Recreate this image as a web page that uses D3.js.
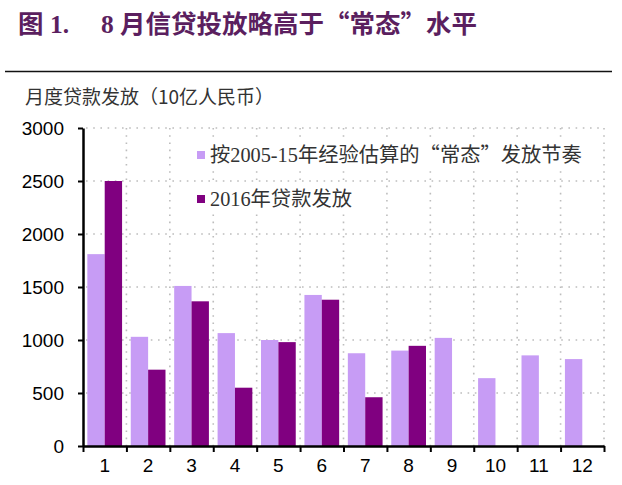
<!DOCTYPE html>
<html><head><meta charset="utf-8">
<script src="https://cdn.jsdelivr.net/npm/d3@7"></script>
<style>html,body{margin:0;padding:0;background:#fff;}svg{display:block;}</style>
</head><body>
<svg id="c" width="622" height="485"></svg>
<script>
const months = ["1","2","3","4","5","6","7","8","9","10","11","12"];
const normalValues = [1810, 1030, 1510, 1065, 1000, 1425, 875, 900, 1020, 640, 855, 820];
const loans2016 = [2500, 720, 1365, 550, 980, 1380, 460, 945, null, null, null, null];
const yTicks = [0, 500, 1000, 1500, 2000, 2500, 3000];
const seriesNames = ["按2005-15年经验估算的“常态”发放节奏", "2016年贷款发放"];
const titleText = "图 1.     8 月信贷投放略高于“常态”水平";
const unitText = "月度贷款发放（10亿人民币）";

const colLight = "#c79cf5", colDark = "#800080";
const svg = d3.select("#c");
const L = 83, R = 604, T = 128, B = 446;

// helper: split text into latin / cjk runs
function runs(str){ const out=[]; let cur="", asc=null;
  for (const ch of str){ const a = ch.charCodeAt(0) < 256;
    if (asc===null || a===asc) { cur+=ch; asc=a; } else { out.push([cur,asc]); cur=ch; asc=a; } }
  if (cur) out.push([cur,asc]); return out; }
function mixedText(g, str, asciiFont, cjkFont, cjkWeight){
  runs(str.replace(/ /g,"\u00a0")).forEach(([s,a]) => {
    const ts = g.append("tspan").attr("font-family", a?asciiFont:cjkFont).text(s);
    if (!a && cjkWeight) ts.attr("font-weight", cjkWeight);
  });
}

// title
const t = svg.append("text").attr("x",18).attr("y",33).attr("font-size",25.5).attr("font-weight","bold")
  .attr("fill","#5b1f5f");
mixedText(t, titleText, "'Liberation Serif'", "'Noto Sans CJK SC'", 600);
svg.append("line").attr("x1",5).attr("x2",612).attr("y1",71.5).attr("y2",71.5).attr("stroke","#111").attr("stroke-width",1.3);
svg.append("text").attr("x",25).attr("y",104).attr("font-size",19).attr("fill","#333")
  .attr("font-family","'Noto Sans CJK SC'").text(unitText);

const y = d3.scaleLinear().domain([0,3000]).range([B,T]);
const x0 = d3.scaleBand().domain(months).range([L,R]).paddingInner(0.2).paddingOuter(0.1);
const x1 = d3.scaleBand().domain([0,1]).range([0,x0.bandwidth()]);
const xb = d3.scaleLinear().domain([0,12]).range([L,R]);

// grid
const grid = svg.append("g").attr("stroke","#bdbdbd").attr("stroke-width",1.6).attr("stroke-dasharray","1.6,5.6");
yTicks.filter(v=>v>0).forEach(v => grid.append("line").attr("x1",L+3).attr("x2",R).attr("y1",y(v)).attr("y2",y(v)));
d3.range(1,13).forEach(i => grid.append("line").attr("x1",xb(i)).attr("x2",xb(i)).attr("y1",T).attr("y2",B));

// legend
const lg = svg.append("g");
const legY = [155, 199];
seriesNames.forEach((n,i) => {
  const g = lg.append("g");
  const tx = g.append("text").attr("x",210).attr("y",legY[i]).attr("dy","0.36em").attr("font-size",20.3).attr("fill","#333");
  mixedText(tx, n, "'Liberation Serif'", "'Noto Sans CJK SC'");
  const bb = tx.node().getBBox();
  g.insert("rect","text").attr("x",194).attr("y",bb.y+2).attr("width",bb.x+bb.width-194+2).attr("height",bb.height-4).attr("fill","#fff");
  g.append("rect").attr("x",197).attr("y",legY[i]-4).attr("width",8).attr("height",8).attr("fill",i?colDark:colLight);
});

// bars
const bars = svg.append("g");
months.forEach((m,i) => {
  [normalValues[i], loans2016[i]].forEach((v,j) => {
    if (v==null) return;
    bars.append("rect").attr("x",x0(m)+x1(j)).attr("width",x1.bandwidth()).attr("y",y(v)).attr("height",B-y(v))
      .attr("fill", j?colDark:colLight);
  });
});

// axes
const ya = svg.append("g").attr("transform",`translate(${L},0)`)
  .call(d3.axisLeft(y).tickValues(yTicks).tickFormat(d3.format("d")).tickSizeInner(5).tickSizeOuter(0).tickPadding(14));
ya.select(".domain").attr("stroke","#000").attr("stroke-width",2.5);
ya.selectAll(".tick line").attr("stroke","#000").attr("stroke-width",2);
ya.selectAll("text").attr("font-family","'Liberation Sans',Arial").attr("font-size",19).attr("fill","#000");

const xa = svg.append("g").attr("transform",`translate(0,${B})`)
  .call(d3.axisBottom(xb).tickValues(d3.range(0,13)).tickSizeInner(6).tickSizeOuter(0).tickFormat(""));
xa.select(".domain").attr("stroke","#000").attr("stroke-width",2.5);
xa.selectAll(".tick line").attr("stroke","#000").attr("stroke-width",2);
const xl = svg.append("g").attr("transform",`translate(0,${B})`)
  .call(d3.axisBottom(x0).tickSize(0).tickPadding(13));
xl.select(".domain").remove();
xl.selectAll("text").attr("font-family","'Liberation Sans',Arial").attr("font-size",19).attr("fill","#000");
</script>
</body></html>
